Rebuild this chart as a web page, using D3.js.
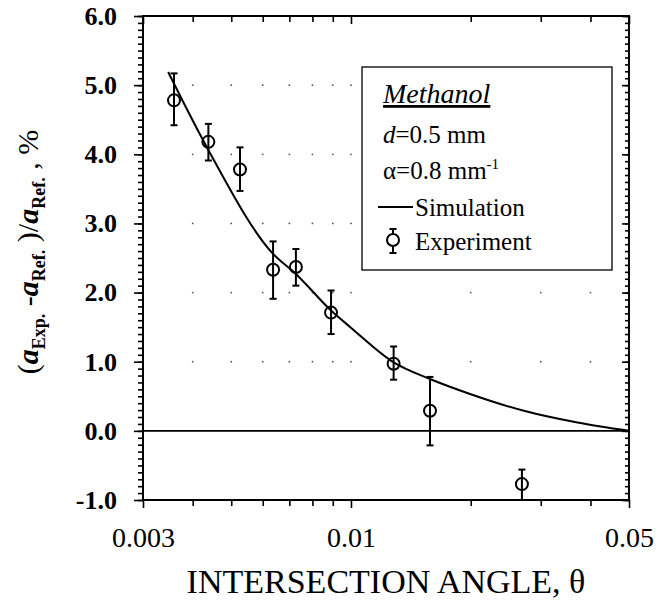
<!DOCTYPE html>
<html>
 <head>
  <meta charset="utf-8">
  <title>Methanol intersection angle</title>
  <script src="https://d3js.org/d3.v7.min.js"></script>
 </head>
 <body style="margin:0;background:white">
<style>
text { font-family: "Liberation Serif", "Times New Roman", serif; fill: black; }
.axis path, .axis line { stroke: black; }
</style>
 <svg width="656" height="611"></svg>
 <script>
// experiment points: angle, value, upper bar, lower bar
var expAngle = [0.00359, 0.00438, 0.00526, 0.00637, 0.00727, 0.00891, 0.0128, 0.0158, 0.0269];
var expValue = [4.78, 4.18, 3.78, 2.33, 2.37, 1.71, 0.97, 0.29, -0.77];
var expHigh  = [5.17, 4.44, 4.10, 2.74, 2.63, 2.03, 1.22, 0.78, -0.56];
var expLow   = [4.42, 3.91, 3.47, 1.91, 2.10, 1.40, 0.74, -0.21, -1.0];

// simulation curve
var simAngle = [0.00347, 0.00441, 0.00637, 0.00727, 0.00891, 0.00996, 0.0128, 0.0158, 0.0200, 0.0272, 0.0371, 0.0500];
var simValue = [5.19, 4.03, 2.56, 2.27, 1.74, 1.50, 0.99, 0.75, 0.53, 0.29, 0.12, 0.0];

var xMajor = [0.003, 0.01, 0.05];
var xMinor = [0.004, 0.005, 0.006, 0.007, 0.008, 0.009, 0.02, 0.03, 0.04];
var yMajor = [-1, 0, 1, 2, 3, 4, 5, 6];

var svg = d3.select("svg");
var pLeft = 143, pRight = 629, pTop = 16, pBottom = 500;

var x = d3.scaleLog().domain([0.003, 0.05]).range([pLeft, pRight]);
var y = d3.scaleLinear().domain([-1, 6]).range([pBottom, pTop]);

var yMinor = d3.range(-10, 61).map(function(i){ return i / 10; });
var fmtY = function(d){ return d3.format(".1f")(d).replace("\u2212", "-"); };

//grid dots
yMajor.slice(2, 7).forEach(function(v){
  xMinor.concat([0.01]).forEach(function(u){
    svg.append("circle").attr("cx", x(u)).attr("cy", y(v)).attr("r", 0.9).style("fill", "#555");
  });
});

//left axis
svg.append("g").attr("class", "axis").attr("transform", "translate(" + pLeft + ",0)")
  .call(d3.axisLeft(y).tickValues(yMinor).tickSize(5).tickFormat(""))
  .select(".domain").remove();
var yAx = svg.append("g").attr("class", "axis").attr("transform", "translate(" + pLeft + ",0)")
  .call(d3.axisLeft(y).tickValues(yMajor).tickSize(9).tickPadding(17).tickFormat(fmtY));
yAx.selectAll("text").style("font-size", "26px").style("font-weight", "bold");
yAx.select(".domain").remove();

//right axis, ticks inward
svg.append("g").attr("class", "axis").attr("transform", "translate(" + pRight + ",0)")
  .call(d3.axisLeft(y).tickValues(yMinor).tickSize(4).tickFormat(""))
  .select(".domain").remove();
svg.append("g").attr("class", "axis").attr("transform", "translate(" + pRight + ",0)")
  .call(d3.axisLeft(y).tickValues(yMajor).tickSize(7).tickFormat(""))
  .select(".domain").remove();

//bottom axis
svg.append("g").attr("class", "axis").attr("transform", "translate(0," + pBottom + ")")
  .call(d3.axisBottom(x).tickValues(xMinor).tickSize(6).tickFormat(""))
  .select(".domain").remove();
var xAx = svg.append("g").attr("class", "axis").attr("transform", "translate(0," + pBottom + ")")
  .call(d3.axisBottom(x).tickValues(xMajor).tickSize(8).tickPadding(19).tickFormat(function(d){ return String(d); }));
xAx.selectAll("text").style("font-size", "28px");
xAx.select(".domain").remove();

//top axis, ticks inward
svg.append("g").attr("class", "axis").attr("transform", "translate(0," + pTop + ")")
  .call(d3.axisBottom(x).tickValues(xMinor).tickSize(6).tickFormat(""))
  .select(".domain").remove();
svg.append("g").attr("class", "axis").attr("transform", "translate(0," + pTop + ")")
  .call(d3.axisBottom(x).tickValues(xMajor).tickSize(8).tickFormat(""))
  .select(".domain").remove();

svg.selectAll(".axis line").style("stroke-width", "1.6");

//frame
svg.append("rect").attr("x", pLeft).attr("y", pTop).attr("width", pRight - pLeft).attr("height", pBottom - pTop)
  .style("fill", "none").style("stroke", "black").style("stroke-width", "2");

//zero line
svg.append("line").attr("x1", pLeft).attr("x2", pRight).attr("y1", y(0)).attr("y2", y(0))
  .style("stroke", "black").style("stroke-width", "1.8");

//simulation
var line = d3.line().x(function(d){ return x(d[0]); }).y(function(d){ return y(d[1]); }).curve(d3.curveMonotoneX);
svg.append("path").datum(d3.zip(simAngle, simValue)).attr("d", line)
  .style("fill", "none").style("stroke", "black").style("stroke-width", "2");

//experiment
var pts = svg.append("g").selectAll("g").data(expAngle).enter().append("g");
pts.append("line").attr("x1", function(d){ return x(d); }).attr("x2", function(d){ return x(d); })
  .attr("y1", function(d, i){ return y(expHigh[i]); }).attr("y2", function(d, i){ return y(expLow[i]); })
  .style("stroke", "black").style("stroke-width", "2");
pts.append("line").attr("x1", function(d){ return x(d) - 3.5; }).attr("x2", function(d){ return x(d) + 3.5; })
  .attr("y1", function(d, i){ return y(expHigh[i]); }).attr("y2", function(d, i){ return y(expHigh[i]); })
  .style("stroke", "black").style("stroke-width", "2");
pts.append("line").attr("x1", function(d){ return x(d) - 3.5; }).attr("x2", function(d){ return x(d) + 3.5; })
  .attr("y1", function(d, i){ return y(expLow[i]); }).attr("y2", function(d, i){ return y(expLow[i]); })
  .style("stroke", "black").style("stroke-width", "2");
pts.append("circle").attr("cx", function(d){ return x(d); }).attr("cy", function(d, i){ return y(expValue[i]); })
  .attr("r", 6).style("fill", "none").style("stroke", "black").style("stroke-width", "2");

//legend
svg.append("rect").attr("x", 362).attr("y", 67).attr("width", 250).attr("height", 203)
  .style("fill", "white").style("stroke", "black").style("stroke-width", "1.3");
svg.append("text").attr("x", 383).attr("y", 103).text("Methanol")
  .style("font-size", "28px").style("font-style", "italic").style("text-decoration", "underline");
var t1 = svg.append("text").attr("x", 383).attr("y", 143).style("font-size", "25px");
t1.append("tspan").style("font-style", "italic").text("d");
t1.append("tspan").text("=0.5 mm");
var t2 = svg.append("text").attr("x", 383).attr("y", 179).style("font-size", "25px");
t2.append("tspan").text("\u03b1=0.8 mm");
t2.append("tspan").attr("dy", -10).style("font-size", "15px").text("-1");
svg.append("line").attr("x1", 378).attr("x2", 413).attr("y1", 207).attr("y2", 207)
  .style("stroke", "black").style("stroke-width", "2");
svg.append("text").attr("x", 415).attr("y", 216).style("font-size", "25px").text("Simulation");
svg.append("line").attr("x1", 393).attr("x2", 393).attr("y1", 229).attr("y2", 253).style("stroke", "black").style("stroke-width", "2");
svg.append("line").attr("x1", 389.5).attr("x2", 396.5).attr("y1", 229).attr("y2", 229).style("stroke", "black").style("stroke-width", "2");
svg.append("line").attr("x1", 389.5).attr("x2", 396.5).attr("y1", 253).attr("y2", 253).style("stroke", "black").style("stroke-width", "2");
svg.append("circle").attr("cx", 393).attr("cy", 240).attr("r", 6).style("fill", "white").style("stroke", "black").style("stroke-width", "2");
svg.append("text").attr("x", 415).attr("y", 250).style("font-size", "25px").text("Experiment");

//axis titles
svg.append("text").attr("x", (pLeft + pRight) / 2).attr("y", 593).attr("text-anchor", "middle")
  .style("font-size", "34px").text("INTERSECTION ANGLE, \u03b8");

var yt = svg.append("text").attr("transform", "translate(38,252) rotate(-90)").attr("text-anchor", "middle")
  .style("font-size", "30px");
yt.append("tspan").text("(");
yt.append("tspan").style("font-style", "italic").style("font-weight", "bold").text("a");
yt.append("tspan").attr("dy", 7).style("font-size", "18px").style("font-weight", "bold").text("Exp.");
yt.append("tspan").attr("dy", -7).text(" -");
yt.append("tspan").style("font-style", "italic").style("font-weight", "bold").text("a");
yt.append("tspan").attr("dy", 7).style("font-size", "18px").style("font-weight", "bold").text("Ref.");
yt.append("tspan").attr("dy", -7).text(" )/");
yt.append("tspan").style("font-style", "italic").style("font-weight", "bold").text("a");
yt.append("tspan").attr("dy", 7).style("font-size", "18px").style("font-weight", "bold").text("Ref.");
yt.append("tspan").attr("dy", -7).text(" ,  %");
 </script>
</body>
</html>
